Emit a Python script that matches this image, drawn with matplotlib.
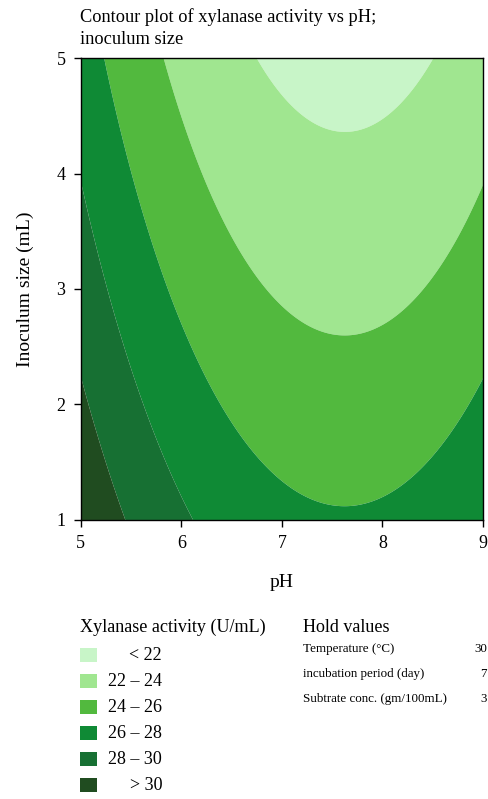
import numpy as np
import matplotlib
matplotlib.use("Agg")
import matplotlib.pyplot as plt
from matplotlib.patches import Rectangle

plt.rcParams['font.family'] = ['Liberation Serif', 'DejaVu Serif']

# Values on a coarse grid (xylanase activity, U/mL)
ph_values = [5, 6, 7, 8, 9]
inoculum_values = [1, 2, 3, 4, 5]
activity_grid = [
    [31.7, 28.3, 26.5, 26.3, 27.7],   # inoculum 1
    [30.3, 26.9, 25.1, 24.9, 26.3],   # inoculum 2
    [29.1, 25.6, 23.8, 23.6, 25.0],   # inoculum 3
    [28.0, 24.5, 22.7, 22.5, 23.9],   # inoculum 4
    [26.9, 23.5, 21.7, 21.5, 22.9],   # inoculum 5
]
levels = [0, 22, 24, 26, 28, 30, 100]
level_labels = ["< 22", "22 – 24", "24 – 26", "26 – 28", "28 – 30", "> 30"]
level_colors = ["#c8f5c8", "#a0e690", "#52b93e", "#0f8a35", "#177033", "#204c20"]
hold_names = ["Temperature (°C)", "incubation period (day)", "Subtrate conc. (gm/100mL)"]
hold_vals = ["30", "7", "3"]

# Second-order response surface fitted to the read grid
PX, IY = np.meshgrid(ph_values, inoculum_values)
Z = np.array(activity_grid)
def design(x, y):
    return np.column_stack([np.ones_like(x), x, y, x * x, y * y, x * y])
coef, *_ = np.linalg.lstsq(design(PX.ravel().astype(float), IY.ravel().astype(float)), Z.ravel(), rcond=None)
xf = np.linspace(5, 9, 400)
yf = np.linspace(1, 5, 400)
XF, YF = np.meshgrid(xf, yf)
ZF = (design(XF.ravel(), YF.ravel()) @ coef).reshape(XF.shape)

fig = plt.figure(figsize=(4.88, 7.99), dpi=100)
ax = fig.add_axes([0.1654, 0.3492, 0.8244, 0.5782])
ax.contourf(XF, YF, ZF, levels=levels, colors=level_colors, antialiased=True)
ax.set_xlim(5, 9)
ax.set_ylim(1, 5)
ax.set_xticks([5, 6, 7, 8, 9])
ax.set_yticks([1, 2, 3, 4, 5])
ax.tick_params(direction='out', length=5, width=1, labelsize=13, pad=6)
for s in ax.spines.values():
    s.set_linewidth(1.0)
ax.set_xlabel("pH", fontsize=14, labelpad=16)
ax.set_ylabel("Inoculum size (mL)", fontsize=14, labelpad=16)

fig.text(80 / 488, 1 - 8 / 799, "Contour plot of xylanase activity vs pH;\ninoculum size",
         fontsize=13.2, va='top', ha='left', linespacing=1.4)

# Legend
fig.text(80 / 488, 1 - 627 / 799, "Xylanase activity (U/mL)", fontsize=13.1, va='center', ha='left')
ys = [655, 681, 707, 733, 759, 785]
for yc, col, lab in zip(ys, level_colors, level_labels):
    fig.patches.append(Rectangle((80 / 488, 1 - (yc + 7) / 799), 17 / 488, 14 / 799,
                                 transform=fig.transFigure, facecolor=col, edgecolor='none'))
    fig.text(162 / 488, 1 - yc / 799, lab, fontsize=13, va='center', ha='right')

# Hold values
fig.text(303 / 488, 1 - 627 / 799, "Hold values", fontsize=13, va='center', ha='left')
hy = [649, 674, 699]
for yv, name, val in zip(hy, hold_names, hold_vals):
    fig.text(303 / 488, 1 - yv / 799, name, fontsize=9.4, va='center', ha='left')
    fig.text(487 / 488, 1 - yv / 799, val, fontsize=9.4, va='center', ha='right')

fig.savefig("out.png", dpi=100, facecolor='white')
